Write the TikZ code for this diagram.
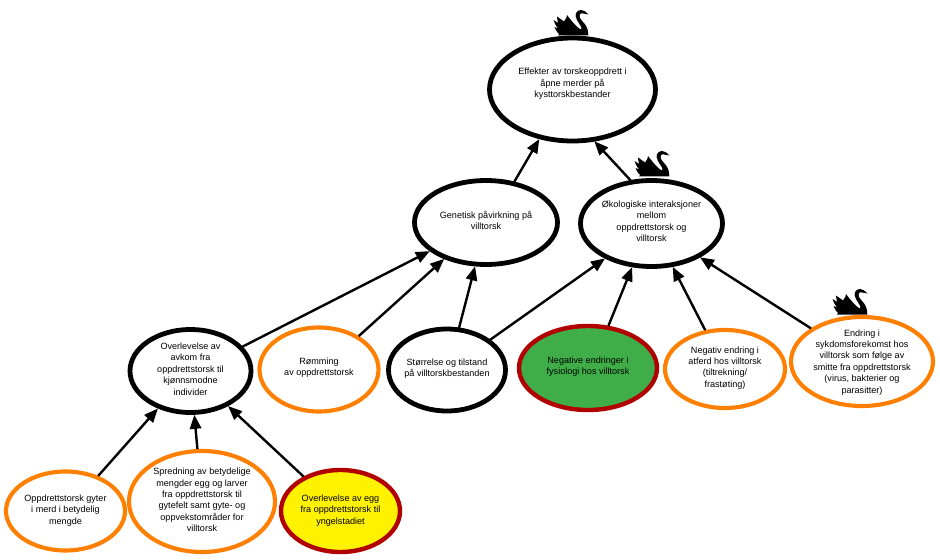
\documentclass[tikz,border=0pt]{standalone}
\usepackage{fontspec}
\setmainfont{Liberation Sans}
\usetikzlibrary{shapes.geometric,arrows.meta}
\definecolor{orgc}{HTML}{FF8000}
\definecolor{redc}{HTML}{B00000}
\definecolor{grnc}{HTML}{3FAE49}
\definecolor{ylwc}{HTML}{FFF200}
\newcommand{\etxt}[2]{\raisebox{#1\dimexpr0.75pt\relax}{\smash{\makebox[0pt]{\begin{tabular}{@{}c@{}}#2\end{tabular}}}}}
\tikzset{
  x=0.75pt,y=-0.75pt,
  oval/.style={ellipse,outer sep=0pt,inner sep=0pt,font=\fontsize{6.8}{8.6}\selectfont},
  blk/.style={oval,draw=black,line width=3.6pt},
  org/.style={oval,draw=orgc,line width=3.1pt},
  red/.style={oval,draw=redc,line width=3.3pt},
  link/.style={draw=black,line width=1.8pt,shorten <=1.5pt,shorten >=1.8pt,-{Triangle[length=10.5pt,width=8.5pt]}},
  swan/.pic={\fill[black] (35.3,25.5) -- (5,25.5) -- (6,24) .. controls (3,21) and (2.5,19) .. (1.5,17)
     -- (5,18.5) .. controls (2.5,15) and (1,12) .. (0.5,10) -- (5,13) .. controls (4,10) and (4.5,8) .. (4,6.5)
     -- (11,11.5) .. controls (13,9) and (14,7) .. (14,5) .. controls (17,9) and (24,18) .. (28,19.5)
     .. controls (30,18) and (26,14) .. (24,10) .. controls (21,5) and (23,0) .. (28,0)
     .. controls (31,0) and (33,2) .. (35.5,4.5) -- (30,3.5) .. controls (27,2.5) and (26,5) .. (27,8)
     .. controls (29,12) and (35.5,15) .. (35.3,25.5) -- cycle;}
}
\begin{document}
\begin{tikzpicture}
\useasboundingbox (0,0) rectangle (940,560);
\fill[white] (0,0) rectangle (940,560);
\pic at (553,10) {swan};
\pic at (634,151) {swan};
\pic at (832,289) {swan};
\node[blk,fill=white,minimum width=166*0.75pt,minimum height=103*0.75pt] (top) at (572.5,89.5) {\etxt{6.5}{Effekter av torskeoppdrett i\\åpne merder på\\kysttorskbestander}};
\node[blk,fill=white,minimum width=143*0.75pt,minimum height=84*0.75pt] (gen) at (486,222.5) {\etxt{-3}{Genetisk påvirkning på\\villtorsk}};
\node[blk,fill=white,minimum width=142*0.75pt,minimum height=86*0.75pt] (oko) at (651.5,223.5) {\etxt{-2.5}{Økologiske interaksjoner\\mellom\\oppdrettstorsk og\\villtorsk}};
\node[blk,fill=white,minimum width=121*0.75pt,minimum height=83*0.75pt] (avk) at (190.5,371) {\etxt{-3}{Overlevelse av\\avkom fra\\oppdrettstorsk til\\kjønnsmodne\\individer}};
\node[org,fill=white,minimum width=119*0.75pt,minimum height=84*0.75pt] (rom) at (319,369.5) {\etxt{-1.5}{Rømming\\av oppdrettstorsk}};
\node[blk,fill=white,minimum width=117*0.75pt,minimum height=82*0.75pt] (str) at (447,370) {\etxt{-2}{Størrelse og tilstand\\på villtorskbestanden}};
\node[red,fill=grnc,minimum width=138*0.75pt,minimum height=84*0.75pt] (neg) at (588,368) {\etxt{-2.5}{Negative endringer i\\fysiologi hos villtorsk}};
\node[org,fill=white,minimum width=120*0.75pt,minimum height=78*0.75pt] (atf) at (725,369) {\etxt{-2.5}{Negativ endring i\\atferd hos villtorsk\\(tiltrekning/\\frastøting)}};
\node[org,fill=white,minimum width=142*0.75pt,minimum height=89*0.75pt] (syk) at (862,361.5) {\etxt{-6.5}{Endring i\\sykdomsforekomst hos\\villtorsk som følge av\\smitte fra oppdrettstorsk\\(virus, bakterier og\\parasitter)}};
\node[org,fill=white,minimum width=119*0.75pt,minimum height=79*0.75pt] (opp) at (65.5,511) {\etxt{-3.5}{Oppdrettstorsk gyter\\i merd i betydelig\\mengde}};
\node[org,fill=white,minimum width=146*0.75pt,minimum height=101*0.75pt] (spr) at (202,501.5) {\etxt{-3.5}{Spredning av betydelige\\mengder egg og larver\\fra oppdrettstorsk til\\gytefelt samt gyte- og\\oppvekstområder for\\villtorsk}};
\node[red,fill=ylwc,minimum width=119*0.75pt,minimum height=82*0.75pt] (egg) at (340.5,511) {\etxt{-3.5}{Overlevelse av egg\\fra oppdrettstorsk til\\yngelstadiet}};
\draw[link] (gen.55.7) -- (top.236.4);
\draw[link] (oko.115.8) -- (top.292.8);
\draw[link] (avk.25.5) -- (gen.207.3);
\draw[link] (rom.40) -- (gen.221.2);
\draw[link] (str.74.4) -- (gen.256.4);
\draw[link] (str.35.2) -- (oko.217.1);
\draw[link] (neg.64.5) -- (oko.246.2);
\draw[link] (atf.117.1) -- (oko.296.8);
\draw[link] (syk.147.7) -- (oko.325.7);
\draw[link] (opp.47.1) -- (avk.229.3);
\draw[link] (spr.95.3) -- (avk.275.6);
\draw[link] (egg.137.8) -- (avk.317.7);
\end{tikzpicture}
\end{document}
